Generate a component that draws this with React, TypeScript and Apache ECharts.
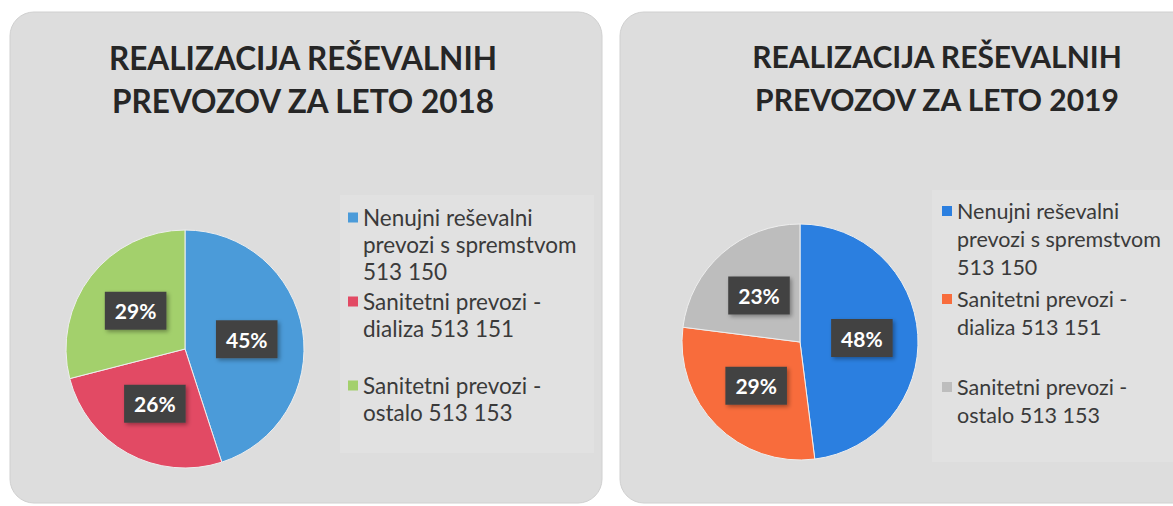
import React, { useEffect, useRef } from "react";
import * as echarts from "echarts";

const legendNames = [
  "Nenujni reševalni\nprevozi s spremstvom\n513 150",
  "Sanitetni prevozi -\ndializa 513 151\n ",
  "Sanitetni prevozi -\nostalo 513 153\n ",
];
const values2018 = [45, 26, 29];
const values2019 = [48, 29, 23];
const colors2018 = ["#4b9bd9", "#e24a64", "#a3d06c"];
const colors2019 = ["#2b7fe0", "#f86c3c", "#bdbdbd"];
const title2018 = "REALIZACIJA REŠEVALNIH\nPREVOZOV ZA LETO 2018";
const title2019 = "REALIZACIJA REŠEVALNIH\nPREVOZOV ZA LETO 2019";

type Cfg = {
  title: string;
  values: number[];
  colors: string[];
  width: number;
  panelW: number;
  titleX: number;
  titleY: number;
  titleSize: number;
  center: [number, number];
  radius: number;
  legendX: number;
  legendY: number;
  legendSize: number;
  lineH: number;
  legendGap: number;
  boxX: number;
  boxY: number;
  boxW: number;
  boxH: number;
};

function PieChart({ cfg, left }: { cfg: Cfg; left: number }) {
  const ref = useRef<HTMLDivElement>(null);
  useEffect(() => {
    if (!ref.current) return;
    const chart = echarts.init(ref.current, undefined, { renderer: "svg" });
    const L = cfg.lineH;
    const s = 10;
    const icon = `path://M0,0h${s}v${s}h-${s}zM0,${2 * L + s}h${s}`;
    chart.setOption({
      animation: false,
      graphic: [
        {
          type: "rect",
          z: -10,
          shape: { x: 10, y: 12, width: cfg.panelW, height: 491, r: 24 },
          style: { fill: "#dddddd", stroke: "#d0d0d0", lineWidth: 1 },
        },
        {
          type: "rect",
          z: -9,
          shape: { x: cfg.boxX, y: cfg.boxY, width: cfg.boxW, height: cfg.boxH },
          style: { fill: "#e1e1e1" },
        },
      ],
      title: {
        text: cfg.title,
        left: cfg.titleX,
        top: cfg.titleY,
        textAlign: "center",
        padding: 0,
        textStyle: {
          fontFamily: "Lato",
          fontWeight: "bold",
          fontSize: cfg.titleSize,
          lineHeight: 43,
          color: "#262626",
        },
      },
      legend: {
        orient: "vertical",
        left: cfg.legendX,
        top: cfg.legendY,
        padding: 0,
        itemGap: cfg.legendGap,
        itemWidth: s,
        itemHeight: 2 * L + s,
        itemStyle: { borderWidth: 0 },
        data: legendNames.map((n) => ({ name: n, icon })),
        textStyle: {
          fontFamily: "Lato",
          fontSize: cfg.legendSize,
          lineHeight: L,
          color: "#3a3a3a",
        },
      },
      series: [
        {
          type: "pie",
          center: cfg.center,
          radius: cfg.radius,
          startAngle: 90,
          clockwise: true,
          itemStyle: { borderColor: "#eeeeee", borderWidth: 1 },
          label: {
            show: true,
            position: "inside",
            formatter: "{c}%",
            color: "#ffffff",
            fontFamily: "Lato",
            fontWeight: "bold",
            fontSize: 21,
            backgroundColor: "#434343",
            padding: [9, 10, 8, 10],
            shadowColor: "rgba(0,0,0,0.35)",
            shadowBlur: 4,
            shadowOffsetX: 2,
            shadowOffsetY: 2,
          },
          labelLine: { show: false },
          data: legendNames.map((n, i) => ({
            name: n,
            value: cfg.values[i],
            itemStyle: { color: cfg.colors[i] },
          })),
        },
      ],
    });
    return () => chart.dispose();
  }, [cfg]);
  return (
    <div
      ref={ref}
      style={{ position: "absolute", left, top: 0, width: cfg.width, height: 506 }}
    />
  );
}

const cfgLeft: Cfg = {
  title: title2018,
  values: values2018,
  colors: colors2018,
  width: 610,
  panelW: 592,
  titleX: 303,
  titleY: 36,
  titleSize: 31.5,
  center: [185, 349],
  radius: 119,
  legendX: 348,
  legendY: 204,
  legendSize: 22.5,
  lineH: 27,
  legendGap: 3,
  boxX: 340,
  boxY: 195,
  boxW: 254,
  boxH: 258,
};

const cfgRight: Cfg = {
  title: title2019,
  values: values2019,
  colors: colors2019,
  width: 563,
  panelW: 600,
  titleX: 327,
  titleY: 34,
  titleSize: 30,
  center: [190, 342],
  radius: 118,
  legendX: 332,
  legendY: 197,
  legendSize: 21.5,
  lineH: 28,
  legendGap: 4,
  boxX: 322,
  boxY: 190,
  boxW: 260,
  boxH: 272,
};

export default function App() {
  useEffect(() => {
    document.body.style.margin = "0";
    document.body.style.background = "#ffffff";
  }, []);
  return (
    <div style={{ position: "relative", width: 1173, height: 506, overflow: "hidden" }}>
      <PieChart cfg={cfgLeft} left={0} />
      <PieChart cfg={cfgRight} left={610} />
    </div>
  );
}
